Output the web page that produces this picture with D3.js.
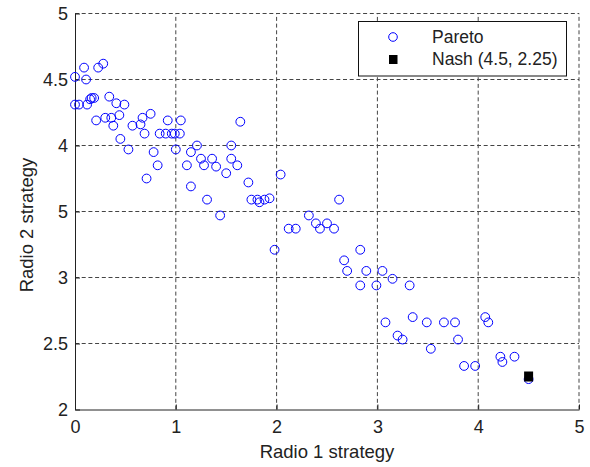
<!DOCTYPE html>
<html>
<head>
<meta charset="utf-8">
<script src="https://cdn.jsdelivr.net/npm/d3@7"></script>
<style>
  body { margin: 0; background: #fff; }
  text { font-family: "Liberation Sans", Arial, sans-serif; fill: #222; }
</style>
</head>
<body>
<svg id="chart"></svg>
<script>
const width = 590;
const height = 467;

// Pareto points
const paretoX = [0.00, 0.09, 0.11, 0.23, 0.28, 0.00, 0.04, 0.12, 0.15, 0.165, 0.19, 0.34, 0.41, 0.49, 0.44,
    0.21, 0.30, 0.36, 0.38, 0.45, 0.53, 0.57, 0.65, 0.67, 0.75, 0.69, 0.78, 0.84, 0.92, 0.90,
    0.96, 0.99, 1.04, 1.05, 1.00, 1.15, 1.21, 1.64, 1.55, 1.25, 1.36, 1.55, 1.11, 1.28, 1.40,
    1.61, 0.82, 0.71, 1.50, 1.15, 1.72, 2.04, 1.31, 1.44, 1.75, 1.81, 1.83, 1.88, 1.93, 2.62,
    2.32, 2.39, 2.50, 2.43, 2.57, 2.12, 2.19, 1.98, 2.83, 2.67, 2.70, 2.89, 3.05, 3.15, 2.83,
    2.99, 3.32, 3.08, 3.35, 3.49, 3.66, 3.77, 4.07, 4.10, 3.20, 3.25, 3.53, 3.80, 3.86, 3.97,
    4.22, 4.24, 4.36, 4.50];
const paretoY = [4.52, 4.59, 4.50, 4.59, 4.62, 4.31, 4.31, 4.31, 4.35, 4.36, 4.36, 4.37, 4.32, 4.31, 4.23,
    4.19, 4.21, 4.21, 4.15, 4.05, 3.97, 4.15, 4.16, 4.21, 4.24, 4.09, 3.95, 4.09, 4.19, 4.09,
    4.09, 4.09, 4.09, 4.19, 3.97, 3.95, 4.00, 4.18, 4.00, 3.90, 3.90, 3.90, 3.85, 3.85, 3.84,
    3.85, 3.85, 3.75, 3.79, 3.69, 3.72, 3.78, 3.59, 3.47, 3.59, 3.59, 3.57, 3.59, 3.60, 3.59,
    3.47, 3.41, 3.41, 3.37, 3.37, 3.37, 3.37, 3.21, 3.21, 3.13, 3.05, 3.05, 3.05, 2.99, 2.94,
    2.94, 2.94, 2.66, 2.70, 2.66, 2.66, 2.66, 2.70, 2.66, 2.56, 2.53, 2.46, 2.53, 2.33, 2.33,
    2.40, 2.36, 2.40, 2.23];

const nashX = [4.5];
const nashY = [2.25];

const xTicks = [0, 1, 2, 3, 4, 5];
const xTickLabels = ["0", "1", "2", "3", "4", "5"];
const yTicks = [2, 2.5, 3, 3.5, 4, 4.5, 5];
const yTickLabels = ["2", "2.5", "3", "5", "4", "4.5", "5"];

const legendLabels = ["Pareto", "Nash (4.5, 2.25)"];

const svg = d3.select("#chart")
    .attr("width", width)
    .attr("height", height);

const x = d3.scaleLinear().domain([0, 5]).range([75, 579]);
const y = d3.scaleLinear().domain([2, 5]).range([409.5, 13.5]);

// grid
const grid = svg.append("g")
    .attr("stroke", "#444")
    .attr("stroke-width", 1)
    .attr("stroke-dasharray", "4,2.7");

grid.selectAll("line.vx")
    .data(xTicks.slice(1))
    .enter()
    .append("line")
    .attr("x1", d => x(d)).attr("x2", d => x(d))
    .attr("y1", y(2)).attr("y2", y(5));

grid.selectAll("line.hy")
    .data(yTicks.slice(1))
    .enter()
    .append("line")
    .attr("x1", x(0)).attr("x2", x(5))
    .attr("y1", d => y(d)).attr("y2", d => y(d));

// axes
const xAxis = svg.append("g")
    .attr("transform", `translate(0,${y(2)})`)
    .call(d3.axisBottom(x).tickValues(xTicks).tickSizeInner(-5).tickSizeOuter(0).tickPadding(11)
        .tickFormat((d, i) => xTickLabels[i]));

const yAxis = svg.append("g")
    .attr("transform", `translate(${x(0)},0)`)
    .call(d3.axisLeft(y).tickValues(yTicks).tickSizeInner(-5).tickSizeOuter(0).tickPadding(7)
        .tickFormat((d, i) => yTickLabels[i]));

[xAxis, yAxis].forEach(a => {
    a.select(".domain").attr("stroke", "#222");
    a.selectAll(".tick line").attr("stroke", "#222");
    a.selectAll(".tick text")
        .style("font-family", "'Liberation Sans', Arial, sans-serif")
        .style("font-size", "18px")
        .attr("fill", "#222");
});

// points
svg.append("g")
    .selectAll("circle")
    .data(paretoX.map((d, i) => [d, paretoY[i]]))
    .enter()
    .append("circle")
    .attr("cx", d => x(d[0]))
    .attr("cy", d => y(d[1]))
    .attr("r", 4.4)
    .attr("fill", "none")
    .attr("stroke", "#0000ff")
    .attr("stroke-width", 1);

svg.append("g")
    .selectAll("rect")
    .data(nashX.map((d, i) => [d, nashY[i]]))
    .enter()
    .append("rect")
    .attr("x", d => x(d[0]) - 4.5)
    .attr("y", d => y(d[1]) - 5)
    .attr("width", 9)
    .attr("height", 10)
    .attr("fill", "#000");

// axis labels
svg.append("text")
    .attr("x", 327)
    .attr("y", 458)
    .attr("text-anchor", "middle")
    .style("font-size", "18.5px")
    .text("Radio 1 strategy");

svg.append("text")
    .attr("transform", "translate(33,225) rotate(-90)")
    .attr("text-anchor", "middle")
    .style("font-size", "18.5px")
    .text("Radio 2 strategy");

// legend
const legend = svg.append("g");

legend.append("rect")
    .attr("x", 358.5).attr("y", 21.5)
    .attr("width", 208).attr("height", 54.5)
    .attr("fill", "#fff")
    .attr("stroke", "#111")
    .attr("stroke-width", 1);

legend.append("circle")
    .attr("cx", 393).attr("cy", 37)
    .attr("r", 4.3)
    .attr("fill", "none")
    .attr("stroke", "#0000ff");

legend.append("rect")
    .attr("x", 389).attr("y", 55)
    .attr("width", 8.5).attr("height", 9)
    .attr("fill", "#000");

legend.selectAll("text")
    .data(legendLabels)
    .enter()
    .append("text")
    .attr("x", 432)
    .attr("y", (d, i) => 43 + i * 22)
    .style("font-size", "17.5px")
    .text(d => d);
</script>
</body>
</html>
